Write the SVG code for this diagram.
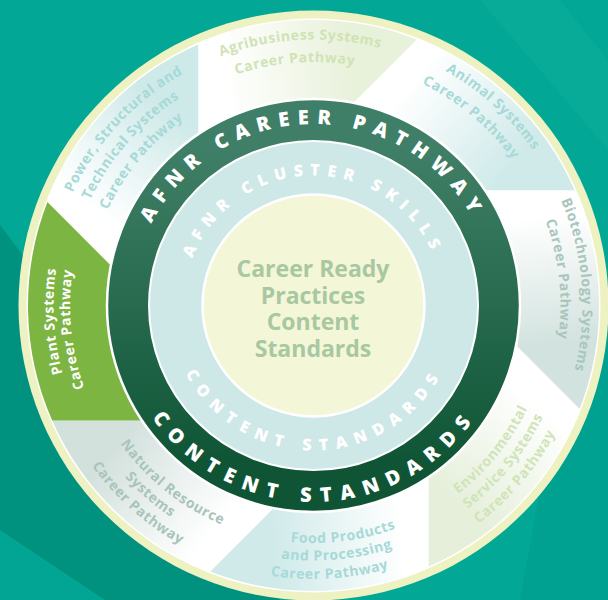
<svg xmlns="http://www.w3.org/2000/svg" xmlns:xlink="http://www.w3.org/1999/xlink" width="608" height="600" viewBox="0 0 608 600">
<defs>
<style>
.lbl{font-family:"Open Sans","Liberation Sans",sans-serif;font-weight:700;font-size:14px;letter-spacing:0.6px}
.ring{font-family:"Open Sans","Liberation Sans",sans-serif;font-weight:800;fill:#ffffff}
.big{font-size:20px}
.small{font-size:16px}
.core{font-family:"Open Sans","Liberation Sans",sans-serif;font-weight:700;font-size:23px;fill:#a8c8a2}
.seg{stroke:none}
</style>
<linearGradient id="gPower" gradientUnits="userSpaceOnUse" x1="-231.5" y1="-69" x2="-115" y2="-212.5"><stop offset="0.15" stop-color="#ffffff"/><stop offset="0.85" stop-color="#cde9e8"/></linearGradient>
<linearGradient id="gAgri" gradientUnits="userSpaceOnUse" x1="-231.5" y1="-69" x2="-115" y2="-212.5"><stop offset="0.15" stop-color="#ffffff"/><stop offset="0.85" stop-color="#e8f1da"/></linearGradient>
<linearGradient id="gAnimal" gradientUnits="userSpaceOnUse" x1="-231.5" y1="-69" x2="-115" y2="-212.5"><stop offset="0.15" stop-color="#ffffff"/><stop offset="0.85" stop-color="#d0eaea"/></linearGradient>
<linearGradient id="gBio" gradientUnits="userSpaceOnUse" x1="-231.5" y1="-69" x2="-115" y2="-212.5"><stop offset="0.15" stop-color="#ffffff"/><stop offset="0.85" stop-color="#d2e2de"/></linearGradient>
<linearGradient id="gEnv" gradientUnits="userSpaceOnUse" x1="-231.5" y1="-69" x2="-115" y2="-212.5"><stop offset="0.15" stop-color="#ffffff"/><stop offset="0.85" stop-color="#e5efda"/></linearGradient>
<linearGradient id="gFood" gradientUnits="userSpaceOnUse" x1="-231.5" y1="-69" x2="-115" y2="-212.5"><stop offset="0.15" stop-color="#ffffff"/><stop offset="0.85" stop-color="#d0eaea"/></linearGradient>
<linearGradient id="gNat" gradientUnits="userSpaceOnUse" x1="-231.5" y1="-69" x2="-115" y2="-212.5"><stop offset="0.15" stop-color="#ffffff"/><stop offset="0.85" stop-color="#d3e1dd"/></linearGradient>
<linearGradient id="gDark" gradientUnits="userSpaceOnUse" x1="0" y1="99" x2="0" y2="512"><stop offset="0.12" stop-color="#3f7f67"/><stop offset="0.88" stop-color="#0f5535"/></linearGradient>
<path id="seg" d="M-197.02,-34.38 L-266.09,-103.45 A285.5,285.5 0 0 1 -115,-261.3 L-115,-163.6 A200,200 0 0 0 -197.02,-34.38 Z"/>
<path id="t227" d="M-196.58,-113.5 A227,227 0 0 1 196.58,-113.5"/>
<path id="t243" d="M-210.87,-121.75 A243.5,243.5 0 0 1 210.87,-121.75"/>
<path id="t247" d="M-213.90,-123.5 A247,247 0 0 1 213.90,-123.5"/>
<path id="t260" d="M-225.16,-130 A260,260 0 0 1 225.16,-130"/>
<path id="t266" d="M-230.36,-133 A266,266 0 0 1 230.36,-133"/>
<path id="t269" d="M-232.96,-134.5 A269,269 0 0 1 232.96,-134.5"/>
<path id="b237" d="M-205.68,118.75 A237.5,237.5 0 0 0 205.68,118.75"/>
<path id="b255" d="M-220.83,127.5 A255,255 0 0 0 220.83,127.5"/>
<path id="b273" d="M-236.85,136.75 A273.5,273.5 0 0 0 236.85,136.75"/>
<path id="t181" d="M-178.74,-31.51 A181.5,181.5 0 0 1 178.74,-31.51"/>
<path id="t130" d="M-128.02,-22.57 A130,130 0 0 1 128.02,-22.57"/>
<path id="b196" d="M-193.51,34.11 A196.5,196.5 0 0 0 193.51,34.11"/>
<path id="b145" d="M-142.80,25.17 A145,145 0 0 0 142.80,25.17"/>
</defs>

<g id="background">
<rect x="0" y="0" width="608" height="600" fill="#02a795"/>
<polygon points="0,225 280,600 0,600" fill="#00917f"/>
<polygon points="0,530 105,600 0,600" fill="#02a493"/>
<polygon points="480,0 560,0 608,60 608,150" fill="#0aac9a" opacity="0.7"/>
<polygon points="560,380 608,330 608,600 520,600" fill="#00a08f" opacity="0.8"/>
</g>

<g id="rim">
<circle cx="313.5" cy="305.5" r="295" fill="#eef2c3"/>
<circle cx="313.5" cy="305.5" r="287" fill="#ffffff"/>
</g>

<g id="power-structural">
<use href="#seg" class="seg" transform="translate(313.5 305.5)" fill="url(#gPower)"/>
<g transform="translate(313.5 305.5) rotate(312.9)"><text class="lbl" fill="#a6d9d7"><textPath href="#t266" startOffset="50%" text-anchor="middle">Power, Structural and</textPath></text></g>
<g transform="translate(313.5 305.5) rotate(311.2)"><text class="lbl" fill="#a6d9d7"><textPath href="#t247" startOffset="50%" text-anchor="middle">Technical Systems</textPath></text></g>
<g transform="translate(313.5 305.5) rotate(310)"><text class="lbl" fill="#a6d9d7"><textPath href="#t227" startOffset="50%" text-anchor="middle">Career Pathway</textPath></text></g>
</g>

<g id="agribusiness">
<use href="#seg" class="seg" transform="translate(313.5 305.5) rotate(45)" fill="url(#gAgri)"/>
<g transform="translate(313.5 305.5) rotate(357.1)"><text class="lbl" fill="#d0e3b5"><textPath href="#t266" startOffset="50%" text-anchor="middle">Agribusiness Systems</textPath></text></g>
<g transform="translate(313.5 305.5) rotate(355.6)"><text class="lbl" fill="#d0e3b5"><textPath href="#t243" startOffset="50%" text-anchor="middle">Career Pathway</textPath></text></g>
</g>

<g id="animal">
<use href="#seg" class="seg" transform="translate(313.5 305.5) rotate(90)" fill="url(#gAnimal)"/>
<g transform="translate(313.5 305.5) rotate(42.1)"><text class="lbl" fill="#a6d9d7"><textPath href="#t269" startOffset="50%" text-anchor="middle">Animal Systems</textPath></text></g>
<g transform="translate(313.5 305.5) rotate(39.95)"><text class="lbl" fill="#a6d9d7"><textPath href="#t247" startOffset="50%" text-anchor="middle">Career Pathway</textPath></text></g>
</g>

<g id="biotechnology">
<use href="#seg" class="seg" transform="translate(313.5 305.5) rotate(135)" fill="url(#gBio)"/>
<g transform="translate(313.5 305.5) rotate(85.5)"><text class="lbl" fill="#a9c6bd"><textPath href="#t269" startOffset="50%" text-anchor="middle">Biotechnology Systems</textPath></text></g>
<g transform="translate(313.5 305.5) rotate(83.85)"><text class="lbl" fill="#a9c6bd"><textPath href="#t247" startOffset="50%" text-anchor="middle">Career Pathway</textPath></text></g>
</g>

<g id="environmental">
<use href="#seg" class="seg" transform="translate(313.5 305.5) rotate(180)" fill="url(#gEnv)"/>
<g transform="translate(313.5 305.5) rotate(-50.95)"><text class="lbl" fill="#d0e4b8"><textPath href="#b237" startOffset="50%" text-anchor="middle">Environmental</textPath></text></g>
<g transform="translate(313.5 305.5) rotate(-50.7)"><text class="lbl" fill="#d0e4b8"><textPath href="#b255" startOffset="50%" text-anchor="middle">Service Systems</textPath></text></g>
<g transform="translate(313.5 305.5) rotate(-49.65)"><text class="lbl" fill="#d0e4b8"><textPath href="#b273" startOffset="50%" text-anchor="middle">Career Pathway</textPath></text></g>
</g>

<g id="food-products">
<use href="#seg" class="seg" transform="translate(313.5 305.5) rotate(225)" fill="url(#gFood)"/>
<g transform="translate(313.5 305.5) rotate(-7.4)"><text class="lbl" fill="#a6d9d7"><textPath href="#b237" startOffset="50%" text-anchor="middle">Food Products</textPath></text></g>
<g transform="translate(313.5 305.5) rotate(-5.4)"><text class="lbl" fill="#a6d9d7"><textPath href="#b255" startOffset="50%" text-anchor="middle">and Processing</textPath></text></g>
<g transform="translate(313.5 305.5) rotate(-3.5)"><text class="lbl" fill="#a6d9d7"><textPath href="#b273" startOffset="50%" text-anchor="middle">Career Pathway</textPath></text></g>
</g>

<g id="natural-resource">
<use href="#seg" class="seg" transform="translate(313.5 305.5) rotate(270)" fill="url(#gNat)"/>
<g transform="translate(313.5 305.5) rotate(38.5)"><text class="lbl" fill="#a9c4bb"><textPath href="#b237" startOffset="50%" text-anchor="middle">Natural Resource</textPath></text></g>
<g transform="translate(313.5 305.5) rotate(40.8)"><text class="lbl" fill="#a9c4bb"><textPath href="#b255" startOffset="50%" text-anchor="middle">Systems</textPath></text></g>
<g transform="translate(313.5 305.5) rotate(41.6)"><text class="lbl" fill="#a9c4bb"><textPath href="#b273" startOffset="50%" text-anchor="middle">Career Pathway</textPath></text></g>
</g>

<g id="plant-systems">
<use href="#seg" class="seg" transform="translate(313.5 305.5) rotate(315)" fill="#7db543"/>
<g transform="translate(313.5 305.5) rotate(266.5)"><text class="lbl" fill="#ffffff"><textPath href="#t260" startOffset="50%" text-anchor="middle">Plant Systems</textPath></text></g>
<g transform="translate(313.5 305.5) rotate(264.3)"><text class="lbl" fill="#ffffff"><textPath href="#t243" startOffset="50%" text-anchor="middle">Career Pathway</textPath></text></g>
</g>

<g id="afnr-career-pathway">
<circle cx="313.5" cy="305.5" r="206.5" fill="url(#gDark)" stroke="#ffffff" stroke-width="2.5"/>
<g transform="translate(313.5 305.5) rotate(-0.5)"><text class="ring big" letter-spacing="8"><textPath href="#t181" startOffset="50%" text-anchor="middle">AFNR CAREER PATHWAY</textPath></text></g>
<g transform="translate(313.5 305.5) rotate(-0.5)"><text class="ring big" letter-spacing="9.2"><textPath href="#b196" startOffset="50%" text-anchor="middle">CONTENT STANDARDS</textPath></text></g>
</g>

<g id="afnr-cluster-skills">
<circle cx="313.5" cy="305.5" r="164.5" fill="#cee8e7" stroke="#ffffff" stroke-width="2"/>
<g transform="translate(313.5 305.5) rotate(-0.5)"><text class="ring small" letter-spacing="7"><textPath href="#t130" startOffset="50%" text-anchor="middle">AFNR CLUSTER SKILLS</textPath></text></g>
<g transform="translate(313.5 305.5) rotate(-0.5)"><text class="ring small" letter-spacing="8"><textPath href="#b145" startOffset="50%" text-anchor="middle">CONTENT STANDARDS</textPath></text></g>
</g>

<g id="career-ready-practices">
<circle cx="313.5" cy="305.5" r="111" fill="#f4f6d8" stroke="#ffffff" stroke-width="2.5"/>
<text class="core" text-anchor="middle"><tspan x="313" y="277">Career Ready</tspan><tspan x="313" y="303.5">Practices</tspan><tspan x="313" y="330">Content</tspan><tspan x="313" y="356.5">Standards</tspan></text>
</g>

<g id="connectors"></g>
</svg>
